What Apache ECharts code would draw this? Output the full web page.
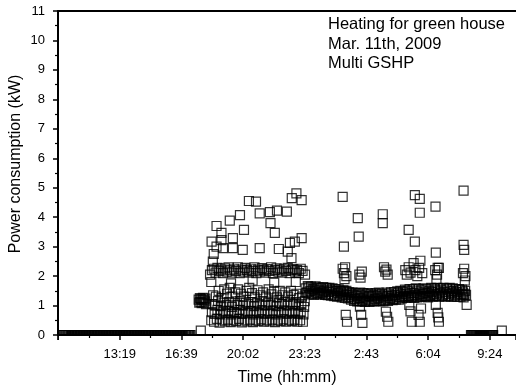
<!DOCTYPE html>
<html><head><meta charset="utf-8">
<script src="https://cdn.jsdelivr.net/npm/echarts@6/dist/echarts.min.js"></script>
<style>html,body{margin:0;padding:0;background:#fff}#c{width:516px;height:387px}</style>
</head><body><div id="c"></div>
<script>
// Time values: minutes after midnight of Mar. 11th (values > 1440 are on the next day)
const AXIS_START = 599;   // 9:59, left end of the time axis
const AXIS_END = 2084;
const TICK_STEP = 200;
const tickLabels = ['', '13:19', '16:39', '20:02', '23:23', '2:43', '6:04', '9:24'];
const noteLines = ['Heating for green house', 'Mar. 11th, 2009', 'Multi GSHP'];
const yTitle = 'Power consumption (kW)';
const xTitle = 'Time (hh:mm)';

const idleMorning = [[614,0],[619,0],[624,0],[629,0],[634,0],[639,0],[644,0],[649,0],[654,0],[659,0],[664,0],[669,0],[674,0],[679,0],[684,0],[689,0],[694,0],[699,0],[704,0],[709,0],[714,0],[719,0],[724,0],[729,0],[734,0],[739,0],[744,0],[749,0],[754,0],[759,0],[764,0],[769,0],[774,0],[779,0],[784,0],[789,0],[794,0],[799,0],[804,0],[809,0],[814,0],[819,0],[824,0],[829,0],[834,0],[839,0],[844,0],[849,0],[854,0],[859,0],[864,0],[869,0],[874,0],[879,0],[884,0],[889,0],[894,0],[899,0],[904,0],[909,0],[914,0],[919,0],[924,0],[929,0],[934,0],[939,0],[944,0],[949,0],[954,0],[959,0],[964,0],[969,0],[974,0],[979,0],[984,0],[989,0],[994,0],[999,0],[1004,0],[1009,0],[1014,0],[1019,0],[1024,0],[1029,0],[1062,0.15]];

const idleMorning2 = [[616,0],[621,0],[626,0],[631,0],[636,0],[641,0],[646,0],[651,0],[656,0],[661,0],[666,0],[671,0],[676,0],[681,0],[686,0],[691,0],[696,0],[701,0],[706,0],[711,0],[716,0],[721,0],[726,0],[731,0],[736,0],[741,0],[746,0],[751,0],[756,0],[761,0],[766,0],[771,0],[776,0],[781,0],[786,0],[791,0],[796,0],[801,0],[806,0],[811,0],[816,0],[821,0],[826,0],[831,0],[836,0],[841,0],[846,0],[851,0],[856,0],[861,0],[866,0],[871,0],[876,0],[881,0],[886,0],[891,0],[896,0],[901,0],[906,0],[911,0],[916,0],[921,0],[926,0],[931,0],[936,0],[941,0],[946,0],[951,0],[956,0],[961,0],[966,0],[971,0],[976,0],[981,0],[986,0],[991,0],[996,0],[1001,0],[1006,0],[1011,0],[1016,0],[1021,0],[1026,0]];

const startup = [[1055,1.2],[1057,1.1],[1059,1.25],[1061,1.12],[1063,1.22],[1065,1.08],[1067,1.18],[1069,1.26],[1071,1.1],[1073,1.2],[1075,1.14],[1077,1.24],[1079,1.05]];

const peakBand = [[1092,2.05],[1098,2.2],[1104,2.25],[1110,2.12],[1116,2.28],[1122,2.18],[1128,2.22],[1134,2.1],[1140,2.26],[1146,2.15],[1152,2.3],[1158,2.2],[1164,2.12],[1170,2.25],[1176,2.18],[1182,2.3],[1188,2.1],[1194,2.22],[1200,2.15],[1206,2.28],[1212,2.2],[1218,2.12],[1224,2.25],[1230,2.18],[1236,2.3],[1242,2.1],[1248,2.22],[1254,2.16],[1260,2.27],[1266,2.2],[1272,2.12],[1278,2.24],[1284,2.18],[1290,2.3],[1296,2.1],[1302,2.2],[1308,2.26],[1314,2.15],[1320,2.22],[1326,2.12],[1332,2.25],[1338,2.18],[1344,2.28],[1350,2.1],[1356,2.2],[1362,2.24],[1368,2.15],[1374,2.2],[1380,2.1],[1386,2.25],[1392,2.18],[1400,2.05],[1096,1.8],[1160,1.75],[1230,1.85],[1300,1.78],[1370,1.8]];

const peakLow = [[1096,0.5],[1098,0.78],[1100,1.05],[1102,1.35],[1105,0.45],[1107,0.72],[1109,1.0],[1111,1.3],[1114,0.55],[1116,0.85],[1118,1.15],[1120,1.5],[1123,0.42],[1125,0.7],[1127,0.98],[1129,1.25],[1132,0.5],[1134,0.8],[1136,1.1],[1138,1.55],[1141,0.46],[1143,0.75],[1145,1.02],[1147,1.4],[1150,0.52],[1152,0.83],[1154,1.12],[1156,1.6],[1159,0.44],[1161,0.7],[1163,0.95],[1165,1.3],[1168,0.5],[1170,0.78],[1172,1.08],[1174,1.45],[1177,0.47],[1179,0.74],[1181,1.02],[1183,1.55],[1186,0.55],[1188,0.85],[1190,1.15],[1192,1.4],[1195,0.43],[1197,0.72],[1199,1.0],[1201,1.3],[1204,0.5],[1206,0.8],[1208,1.1],[1210,1.5],[1213,0.46],[1215,0.76],[1217,1.05],[1219,1.6],[1222,0.52],[1224,0.82],[1226,1.12],[1228,1.42],[1231,0.44],[1233,0.7],[1235,0.98],[1237,1.28],[1240,0.5],[1242,0.8],[1244,1.08],[1246,1.52],[1249,0.47],[1251,0.75],[1253,1.03],[1255,1.35],[1258,0.53],[1260,0.84],[1262,1.14],[1264,1.45],[1267,0.45],[1269,0.72],[1271,1.0],[1273,1.3],[1276,0.5],[1278,0.8],[1280,1.1],[1282,1.55],[1285,0.46],[1287,0.74],[1289,1.02],[1291,1.38],[1294,0.52],[1296,0.83],[1298,1.13],[1300,1.48],[1303,0.44],[1305,0.7],[1307,0.98],[1309,1.28],[1312,0.5],[1314,0.79],[1316,1.08],[1318,1.5],[1321,0.47],[1323,0.76],[1325,1.05],[1327,1.35],[1330,0.53],[1332,0.84],[1334,1.12],[1336,1.45],[1339,0.45],[1341,0.72],[1343,1.0],[1345,1.3],[1348,0.5],[1350,0.8],[1352,1.1],[1354,1.5],[1357,0.47],[1359,0.75],[1361,1.04],[1363,1.36],[1366,0.52],[1368,0.82],[1370,1.12],[1372,1.4],[1375,0.45],[1377,0.72],[1379,1.0],[1381,1.25],[1384,0.5],[1386,0.78],[1388,1.05],[1390,1.3],[1393,0.45],[1395,0.7],[1397,0.95],[1399,1.15]];

const peakHigh = [[1097,3.17],[1101,2.49],[1104,2.75],[1113,3.7],[1113,3.0],[1129,3.47],[1129,3.22],[1134,2.95],[1156,3.88],[1166,3.29],[1166,2.95],[1189,4.07],[1198,2.89],[1202,3.57],[1218,4.55],[1241,4.53],[1253,4.13],[1253,2.95],[1286,4.17],[1288,3.8],[1302,3.47],[1309,4.22],[1315,2.92],[1341,4.19],[1344,2.83],[1351,3.13],[1356,2.61],[1357,4.65],[1367,3.17],[1372,4.81],[1389,4.58],[1389,3.29]];

const steadyBand = [[1402,1.58],[1407,1.45],[1412,1.62],[1417,1.5],[1422,1.4],[1427,1.55],[1432,1.47],[1437,1.6],[1442,1.42],[1447,1.52],[1452,1.58],[1457,1.44],[1462,1.5],[1467,1.38],[1472,1.55],[1477,1.46],[1482,1.52],[1487,1.4],[1492,1.48],[1497,1.35],[1502,1.5],[1507,1.42],[1512,1.32],[1517,1.46],[1522,1.38],[1527,1.5],[1532,1.36],[1537,1.44],[1542,1.3],[1547,1.4],[1552,1.28],[1557,1.36],[1562,1.22],[1567,1.33],[1572,1.4],[1577,1.25],[1582,1.35],[1587,1.2],[1592,1.3],[1597,1.38],[1602,1.24],[1607,1.32],[1612,1.18],[1617,1.3],[1622,1.36],[1627,1.22],[1632,1.33],[1637,1.26],[1642,1.38],[1647,1.2],[1652,1.3],[1657,1.35],[1662,1.24],[1667,1.32],[1672,1.4],[1677,1.26],[1682,1.34],[1687,1.22],[1692,1.36],[1697,1.3],[1702,1.42],[1707,1.28],[1712,1.38],[1717,1.46],[1722,1.32],[1727,1.4],[1732,1.5],[1737,1.34],[1742,1.44],[1747,1.3],[1752,1.42],[1757,1.36],[1762,1.48],[1767,1.34],[1772,1.4],[1777,1.52],[1782,1.38],[1787,1.45],[1792,1.32],[1797,1.42],[1802,1.5],[1807,1.36],[1812,1.46],[1817,1.4],[1822,1.54],[1827,1.38],[1832,1.48],[1837,1.42],[1842,1.52],[1847,1.36],[1852,1.46],[1857,1.4],[1862,1.55],[1867,1.38],[1872,1.48],[1877,1.42],[1882,1.5],[1887,1.36],[1892,1.46],[1897,1.4],[1902,1.52],[1907,1.38],[1912,1.45],[1917,1.4],[1922,1.36]];

const steadyBand2 = [[1404,1.42],[1409,1.66],[1414,1.38],[1419,1.64],[1424,1.55],[1429,1.36],[1434,1.65],[1439,1.4],[1444,1.62],[1449,1.38],[1454,1.45],[1459,1.63],[1464,1.36],[1469,1.6],[1474,1.35],[1479,1.6],[1484,1.34],[1489,1.58],[1494,1.32],[1499,1.56],[1504,1.3],[1509,1.55],[1514,1.5],[1519,1.28],[1524,1.52],[1529,1.26],[1534,1.5],[1539,1.24],[1544,1.46],[1549,1.2],[1554,1.44],[1559,1.16],[1564,1.42],[1569,1.14],[1574,1.15],[1579,1.44],[1584,1.14],[1589,1.42],[1594,1.12],[1599,1.16],[1604,1.42],[1609,1.12],[1614,1.4],[1619,1.15],[1624,1.14],[1629,1.42],[1634,1.16],[1639,1.44],[1644,1.15],[1649,1.4],[1654,1.14],[1659,1.18],[1664,1.44],[1669,1.16],[1674,1.2],[1679,1.45],[1684,1.18],[1689,1.46],[1694,1.2],[1699,1.48],[1704,1.2],[1709,1.5],[1714,1.24],[1719,1.28],[1724,1.54],[1729,1.26],[1734,1.3],[1739,1.56],[1744,1.28],[1749,1.55],[1754,1.26],[1759,1.58],[1764,1.28],[1769,1.56],[1774,1.3],[1779,1.3],[1784,1.58],[1789,1.3],[1794,1.56],[1799,1.28],[1804,1.32],[1809,1.6],[1814,1.3],[1819,1.58],[1824,1.32],[1829,1.6],[1834,1.3],[1839,1.58],[1844,1.32],[1849,1.6],[1854,1.3],[1859,1.58],[1864,1.32],[1869,1.6],[1874,1.3],[1879,1.58],[1884,1.3],[1889,1.56],[1894,1.3],[1899,1.56],[1904,1.3],[1909,1.54],[1914,1.28],[1919,1.5]];

const steadyCycles = [[1522,2.25],[1526,2.1],[1530,2.3],[1534,2.0],[1528,1.9],[1532,0.68],[1536,0.45],[1576,2.05],[1580,1.95],[1584,2.15],[1578,0.96],[1582,0.68],[1586,0.41],[1656,2.3],[1660,2.15],[1664,2.22],[1668,2.05],[1662,0.79],[1666,0.62],[1670,0.45],[1725,2.2],[1730,2.05],[1736,2.3],[1742,2.12],[1752,2.44],[1758,2.2],[1764,2.0],[1770,2.28],[1780,2.1],[1738,1.02],[1742,0.8],[1746,0.45],[1768,0.68],[1772,0.45],[1776,0.9],[1822,2.2],[1828,2.05],[1834,2.28],[1826,1.9],[1824,1.02],[1830,0.75],[1834,0.45],[1832,0.6],[1912,2.1],[1916,2.25],[1920,2.0],[1918,1.85],[1924,1.02],[1914,1.36]];

const steadyHigh = [[1522,4.69],[1526,3.0],[1571,3.97],[1574,3.34],[1652,4.1],[1652,3.8],[1736,3.57],[1756,4.75],[1756,3.17],[1772,4.62],[1772,4.15],[1774,2.52],[1823,4.36],[1824,2.8],[1830,2.28],[1914,4.9],[1914,3.06],[1916,2.89]];

const idleMorningAfter = [[1938,0],[1940,0],[1942,0],[1944,0],[1946,0],[1948,0],[1950,0],[1952,0],[1954,0],[1956,0],[1958,0],[1960,0],[1962,0],[1964,0],[1966,0],[1968,0],[1970,0],[1972,0],[1974,0],[1976,0],[1978,0],[1980,0],[1982,0],[1984,0],[1986,0],[1988,0],[1990,0],[1992,0],[1994,0],[1996,0],[1998,0],[2000,0],[2002,0],[2004,0],[2006,0],[2008,0],[2010,0],[2038,0.15]];

const groups = [idleMorning, idleMorning2, startup, peakBand, peakLow, peakHigh, steadyBand, steadyBand2, steadyCycles, steadyHigh, idleMorningAfter];

const FONT = 'Liberation Sans, Arial, Helvetica, sans-serif';
const chart = echarts.init(document.getElementById('c'), null, {renderer: 'canvas'});
const toAxis = p => [p[0] - AXIS_START, p[1]];

chart.setOption({
  animation: false,
  backgroundColor: '#fff',
  grid: {left: 58, right: 0, top: 11, bottom: 52, containLabel: false, outerBoundsMode: 'none'},
  xAxis: [{
    type: 'value', min: 0, max: AXIS_END - AXIS_START, interval: TICK_STEP, z: 6,
    axisLine: {show: true, onZero: false, lineStyle: {color: '#000', width: 2}},
    axisTick: {show: true, length: 5, lineStyle: {color: '#000', width: 1.5}},
    minorTick: {show: true, splitNumber: 2, length: 3, lineStyle: {color: '#000', width: 1.2}},
    splitLine: {show: false},
    axisLabel: {
      color: '#000', fontSize: 13, fontFamily: FONT, margin: 13,
      formatter: v => (v % TICK_STEP === 0 ? (tickLabels[v / TICK_STEP] || '') : '')
    },
    name: xTitle, nameLocation: 'middle', nameGap: 35,
    nameTextStyle: {color: '#000', fontSize: 16, fontFamily: FONT}
  }, {
    type: 'value', position: 'top', min: 0, max: AXIS_END - AXIS_START, z: 6,
    axisLine: {show: true, onZero: false, lineStyle: {color: '#000', width: 2}},
    axisTick: {show: false}, axisLabel: {show: false}, splitLine: {show: false}
  }],
  yAxis: {
    type: 'value', min: 0, max: 11, interval: 1, z: 6,
    axisLine: {show: true, onZero: false, lineStyle: {color: '#000', width: 2}},
    axisTick: {show: true, length: 5, lineStyle: {color: '#000', width: 1.5}},
    minorTick: {show: true, splitNumber: 2, length: 3, lineStyle: {color: '#000', width: 1.2}},
    splitLine: {show: false},
    axisLabel: {color: '#000', fontSize: 13, fontFamily: FONT, margin: 13}
  },
  graphic: [{
    type: 'text', left: 328, top: 15,
    style: {text: noteLines.join('\n'), fill: '#000', font: '16.5px ' + FONT, lineHeight: 19.5}
  }, {
    type: 'text', x: 16, y: 164, rotation: Math.PI / 2,
    style: {text: yTitle, fill: '#000', font: '16px ' + FONT, align: 'center', verticalAlign: 'middle'}
  }, {
    // plot area ends at the time axis: hide what falls below it
    type: 'rect', z: 4, silent: true,
    shape: {x: 59, y: 336, width: 460, height: 10},
    style: {fill: '#fff'}
  }],
  series: groups.map(g => ({
    type: 'scatter', xAxisIndex: 0, silent: true, z: 2,
    symbol: 'rect', symbolSize: 9,
    itemStyle: {color: 'rgba(0,0,0,0)', borderColor: '#000', borderWidth: 1.2},
    data: g.map(toAxis)
  }))
});
</script>
</body></html>
